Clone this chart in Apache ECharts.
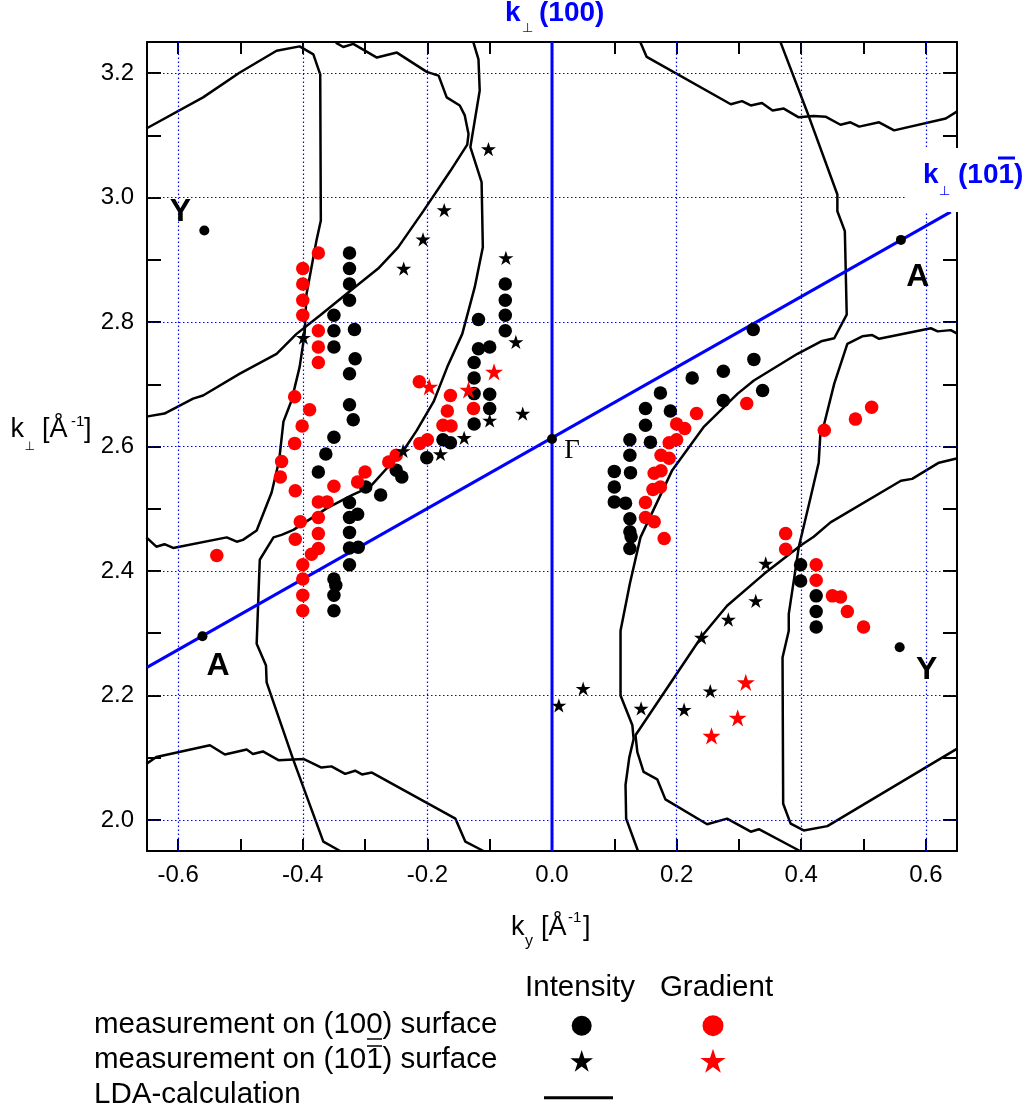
<!DOCTYPE html>
<html><head><meta charset="utf-8">
<script src="https://cdn.jsdelivr.net/npm/echarts@6/dist/echarts.min.js"></script>
<style>html,body{margin:0;padding:0;background:#fff}#c{width:1029px;height:1119px}</style>
</head><body><div id="c"></div><script>
// ---------- axis ticks / labels ----------
const xTickValues = [-0.6,-0.5,-0.4,-0.3,-0.2,-0.1,0.0,0.1,0.2,0.3,0.4,0.5,0.6];
const xLabelValues = [-0.6,-0.4,-0.2,0.0,0.2,0.4,0.6];
const yTickValues = [2.0,2.1,2.2,2.3,2.4,2.5,2.6,2.7,2.8,2.9,3.0,3.1,3.2];
const yLabelValues = [2.0,2.2,2.4,2.6,2.8,3.0,3.2];

// ---------- measurements (100) surface, Intensity (black circles) ----------
const intensity100 = [
 [-0.325,2.911],[-0.325,2.886],[-0.325,2.861],[-0.325,2.835],
 [-0.350,2.811],[-0.350,2.786],[-0.350,2.760],
 [-0.317,2.788],[-0.316,2.741],[-0.325,2.717],[-0.325,2.667],[-0.319,2.643],
 [-0.350,2.615],[-0.363,2.588],[-0.375,2.559],
 [-0.299,2.535],[-0.275,2.522],[-0.250,2.562],[-0.241,2.551],
 [-0.201,2.582],[-0.175,2.611],[-0.163,2.606],
 [-0.325,2.510],[-0.325,2.486],[-0.312,2.491],[-0.325,2.462],[-0.325,2.437],[-0.311,2.438],[-0.325,2.410],
 [-0.350,2.387],[-0.347,2.377],[-0.350,2.361],[-0.350,2.336],
 [-0.118,2.804],[-0.118,2.757],[-0.100,2.760],[-0.125,2.735],[-0.125,2.710],[-0.125,2.685],
 [-0.100,2.684],[-0.100,2.661],[-0.125,2.636],
 [-0.075,2.861],[-0.075,2.835],[-0.075,2.811],[-0.075,2.786],
 [0.323,2.788],[0.324,2.740],[0.275,2.721],[0.225,2.710],[0.338,2.690],[0.275,2.674],
 [0.174,2.686],[0.190,2.657],[0.150,2.661],[0.150,2.634],[0.158,2.607],[0.125,2.611],
 [0.125,2.586],[0.126,2.558],[0.100,2.560],[0.100,2.535],[0.100,2.511],[0.118,2.509],
 [0.125,2.484],[0.125,2.463],[0.127,2.455],[0.125,2.436],
 [0.399,2.410],[0.399,2.384],[0.424,2.360],[0.424,2.335],[0.424,2.310]
];
// ---------- (100) surface, Gradient (red circles) ----------
const gradient100 = [
 [-0.375,2.911],[-0.400,2.886],[-0.400,2.861],[-0.400,2.835],[-0.400,2.811],
 [-0.375,2.786],[-0.375,2.760],[-0.375,2.735],
 [-0.413,2.680],[-0.389,2.659],[-0.401,2.633],[-0.413,2.605],
 [-0.434,2.576],[-0.436,2.551],[-0.412,2.529],[-0.350,2.536],
 [-0.375,2.511],[-0.361,2.511],[-0.375,2.486],[-0.404,2.479],[-0.375,2.460],[-0.412,2.451],
 [-0.375,2.436],[-0.386,2.427],[-0.400,2.410],[-0.400,2.387],[-0.400,2.361],[-0.400,2.336],
 [-0.300,2.559],[-0.312,2.543],[-0.262,2.575],[-0.250,2.586],
 [-0.212,2.605],[-0.200,2.611],[-0.213,2.704],
 [-0.163,2.682],[-0.168,2.657],[-0.175,2.634],[-0.162,2.633],[-0.126,2.661],
 [-0.538,2.425],
 [0.3125,2.669],[0.232,2.653],[0.200,2.636],[0.213,2.629],[0.188,2.606],[0.200,2.611],
 [0.175,2.586],[0.188,2.581],[0.164,2.557],[0.175,2.561],[0.162,2.531],[0.174,2.535],
 [0.150,2.510],[0.150,2.486],[0.164,2.479],[0.180,2.452],
 [0.437,2.626],[0.487,2.644],[0.513,2.663],
 [0.375,2.460],[0.375,2.435],[0.424,2.410],[0.424,2.385],[0.450,2.360],[0.463,2.358],
 [0.474,2.335],[0.500,2.310]
];
// ---------- (10-1) surface, Intensity (black stars) ----------
const intensity101 = [
 [-0.102,3.078],[-0.173,2.980],[-0.207,2.933],[-0.238,2.886],[-0.074,2.903],[-0.399,2.775],
 [-0.058,2.768],[-0.047,2.653],[-0.100,2.642],[-0.141,2.614],[-0.179,2.588],[-0.239,2.593],
 [0.343,2.412],[0.327,2.352],[0.283,2.322],[0.240,2.293],[0.254,2.207],[0.212,2.177],
 [0.143,2.179],[0.050,2.211],[0.011,2.184]
];
// ---------- (10-1) surface, Gradient (red stars) ----------
const gradient101 = [
 [-0.197,2.696],[-0.134,2.691],[-0.093,2.720],[0.311,2.221],[0.298,2.164],[0.256,2.135]
];
// ---------- high symmetry points ----------
const symPointX = [-0.558,-0.561,0.0,0.560,0.558];
const symPointY = [2.947,2.295,2.612,2.932,2.2775];
const symPointNames = ['Y','A','Γ','A','Y'];

// ---------- k-perp directions ----------
const kPerp100 = [[0.0,1.95],[0.0,3.25]];
const kPerp101 = [[-0.65,2.245],[0.64,2.977]];

// ---------- LDA calculation contours ----------
const lda1 = [[-0.651,3.111],[-0.560,3.161],[-0.501,3.201],[-0.442,3.236],[-0.405,3.243],[-0.383,3.230],
 [-0.372,3.198],[-0.371,2.963],[-0.378,2.931],[-0.394,2.845],[-0.397,2.781],[-0.405,2.728],
 [-0.418,2.674],[-0.431,2.640],[-0.438,2.577],[-0.450,2.526],[-0.474,2.465],[-0.496,2.450],
 [-0.506,2.447],[-0.522,2.454],[-0.608,2.437],[-0.622,2.443],[-0.635,2.439],[-0.651,2.454]];
const lda2 = [[-0.347,3.249],[-0.335,3.242],[-0.319,3.247],[-0.281,3.225],[-0.249,3.233],[-0.201,3.202],
 [-0.182,3.196],[-0.169,3.161],[-0.148,3.148],[-0.140,3.132],[-0.134,3.102],[-0.136,3.085],
 [-0.163,3.043],[-0.206,2.979],[-0.247,2.920],[-0.279,2.886],[-0.330,2.845],[-0.372,2.811],
 [-0.410,2.781],[-0.442,2.749],[-0.501,2.717],[-0.560,2.682],[-0.576,2.677],[-0.622,2.653],[-0.651,2.648]];
const lda3 = [[-0.126,3.249],[-0.118,3.222],[-0.116,3.172],[-0.131,3.081],[-0.113,3.025],[-0.111,2.920],
 [-0.124,2.856],[-0.144,2.781],[-0.168,2.728],[-0.190,2.672],[-0.217,2.626],[-0.238,2.594],
 [-0.265,2.565],[-0.292,2.535],[-0.321,2.522],[-0.361,2.501],[-0.415,2.466],[-0.434,2.458],
 [-0.447,2.454],[-0.469,2.418],[-0.474,2.283],[-0.459,2.248],[-0.458,2.221],[-0.415,2.096],
 [-0.367,1.965],[-0.340,1.950]];
const lda4 = [[-0.651,2.090],[-0.635,2.101],[-0.549,2.120],[-0.525,2.105],[-0.490,2.113],[-0.480,2.106],
 [-0.464,2.110],[-0.439,2.096],[-0.399,2.098],[-0.370,2.084],[-0.354,2.086],[-0.332,2.074],
 [-0.316,2.079],[-0.305,2.073],[-0.289,2.076],[-0.155,2.002],[-0.139,1.965],[-0.110,1.950]];
const lda5 = [[0.142,3.249],[0.152,3.226],[0.287,3.150],[0.305,3.155],[0.319,3.148],[0.337,3.152],
 [0.354,3.140],[0.372,3.143],[0.396,3.129],[0.420,3.131],[0.439,3.130],[0.463,3.117],[0.479,3.121],
 [0.493,3.114],[0.525,3.121],[0.549,3.108],[0.632,3.127],[0.651,3.139]];
const lda6 = [[0.367,3.249],[0.412,3.131],[0.458,3.005],[0.458,2.978],[0.470,2.946],[0.473,2.812],
 [0.453,2.774],[0.432,2.769],[0.394,2.749],[0.324,2.706],[0.298,2.685],[0.244,2.632],[0.193,2.562],
 [0.142,2.454],[0.125,2.380],[0.110,2.304],[0.110,2.200],[0.129,2.152],[0.131,2.130],[0.124,2.100],
 [0.118,2.056],[0.119,2.002],[0.138,1.950]];
const lda7 = [[0.651,2.581],[0.621,2.574],[0.578,2.548],[0.560,2.545],[0.447,2.478],[0.420,2.455],
 [0.399,2.441],[0.340,2.395],[0.281,2.344],[0.241,2.296],[0.134,2.136],[0.137,2.109],[0.147,2.077],
 [0.169,2.065],[0.182,2.033],[0.249,1.993],[0.281,2.002],[0.319,1.981],[0.332,1.985],[0.398,1.950]];
const lda8 = [[0.651,2.781],[0.640,2.787],[0.619,2.785],[0.608,2.790],[0.525,2.773],[0.514,2.779],
 [0.498,2.777],[0.474,2.765],[0.453,2.701],[0.437,2.637],[0.431,2.625],[0.428,2.574],[0.415,2.518],
 [0.396,2.438],[0.388,2.384],[0.380,2.331],[0.380,2.304],[0.370,2.261],[0.371,2.026],[0.383,1.994],
 [0.404,1.983],[0.442,1.990],[0.651,2.115]];
const ldaCurves = [lda1,lda2,lda3,lda4,lda5,lda6,lda7,lda8];

// ---------- styles ----------
const FONT = '"Liberation Sans", Arial, Helvetica, sans-serif';
const SERIF = '"Liberation Serif", "Times New Roman", "DejaVu Serif", serif';
const BLUE = '#0000ff';
const RED = '#ff0000';
const STAR = 'path://M50,0L61.23,34.55L97.55,34.55L68.17,55.9L79.39,90.45L50,69.1L20.61,90.45L31.83,55.9L2.45,34.55L38.77,34.55Z';
const symLabelOffsets = [[-24,-18.5],[15.6,30],[20,11.5],[17,37],[27,23]];

function xAxisCfg(pos, showLabel) {
  return {
    type:'value', position:pos, min:-0.65, max:0.65,
    axisLine:{show:true, onZero:false, lineStyle:{color:'#000', width:2}},
    axisTick:{show:true, inside:true, length:12, lineStyle:{color:'#000', width:2}, customValues:xTickValues},
    axisLabel:{show:showLabel, customValues:xLabelValues, formatter:v=>Number(v).toFixed(1),
      fontSize:24, fontFamily:FONT, color:'#000', margin:12},
    splitLine:{show:false}
  };
}
function yAxisCfg(pos, showLabel) {
  return {
    type:'value', position:pos, min:1.95, max:3.25,
    axisLine:{show:true, onZero:false, lineStyle:{color:'#000', width:2}},
    axisTick:{show:true, inside:true, length:14, lineStyle:{color:'#000', width:2}, customValues:yTickValues},
    axisLabel:{show:showLabel, customValues:yLabelValues, formatter:v=>Number(v).toFixed(1),
      fontSize:24, fontFamily:FONT, color:'#000', margin:13},
    splitLine:{show:false}
  };
}

const series = [];
// dotted grid lines via markLine (through the axis scales)
series.push({
  type:'line', data:[[-0.65,1.95]], showSymbol:false, lineStyle:{opacity:0}, z:1, silent:true,
  markLine:{
    silent:true, symbol:['none','none'], label:{show:false},
    lineStyle:{color:BLUE, type:[1.5,2.5], width:1.2, opacity:1},
    data: xLabelValues.map(v=>({xAxis:v})).concat(yLabelValues.map(v=>({yAxis:v}))),
    animation:false
  }
});
ldaCurves.forEach(c => series.push({
  type:'line', data:c, showSymbol:false, symbol:'none', clip:true, z:3, silent:true,
  lineStyle:{color:'#000', width:2.5, opacity:1}
}));
series.push({type:'line', data:kPerp100, showSymbol:false, symbol:'none', z:4, silent:true, lineStyle:{color:BLUE, width:3, opacity:1}});
series.push({type:'line', data:kPerp101, showSymbol:false, symbol:'none', z:4, silent:true, lineStyle:{color:BLUE, width:3, opacity:1}});
series.push({type:'scatter', data:intensity100, symbol:'circle', symbolSize:13.5, itemStyle:{color:'#000', opacity:1}, z:5});
series.push({type:'scatter', data:gradient100, symbol:'circle', symbolSize:13.5, itemStyle:{color:RED, opacity:1}, z:6});
series.push({type:'scatter', data:intensity101, symbol:STAR, symbolKeepAspect:true, symbolSize:15, itemStyle:{color:'#000', opacity:1}, z:7});
series.push({type:'scatter', data:gradient101, symbol:STAR, symbolKeepAspect:true, symbolSize:18, itemStyle:{color:RED, opacity:1}, z:7});
series.push({
  type:'scatter', z:8, symbol:'circle', symbolSize:10, itemStyle:{color:'#000', opacity:1},
  data: symPointX.map((x,i)=>({
    value:[x, symPointY[i]],
    label:{show:true, position:'inside', formatter:symPointNames[i], offset:symLabelOffsets[i],
      color:'#000', opacity:1,
      fontFamily: symPointNames[i]==='Γ' ? SERIF : FONT,
      fontWeight: symPointNames[i]==='Γ' ? 'normal' : 'bold',
      fontSize: symPointNames[i]==='Γ' ? 27 : 32}
  }))
});

function T(x, y, text, size, extra) {
  return Object.assign({type:'text', x:x, y:y, z:100,
    style:Object.assign({text:text, fontSize:size, fontFamily:FONT, fill:'#000', align:'left', verticalAlign:'middle'}, extra||{})});
}
function starPts(cx, cy, R) {
  const p=[]; for (let i=0;i<10;i++){ const r=i%2===0?R:R*0.382; const a=-Math.PI/2+i*Math.PI/5; p.push([cx+r*Math.cos(a), cy+r*Math.sin(a)]); } return p;
}
const B = {fontWeight:'bold', fill:BLUE};
const graphic = [
  // white box behind right label
  {type:'rect', z:90, shape:{x:905, y:148, width:124, height:64}, style:{fill:'#fff'}},
  // top label k_perp (100)
  T(505, 13, 'k', 28, B), T(522, 29, '⊥', 13, {fill:BLUE, fontFamily:'"DejaVu Sans", sans-serif'}), T(539, 13, '(100)', 28, B),
  // right label k_perp (10-1)
  T(923, 175, 'k', 28, B), T(939, 192, '⊥', 13, {fill:BLUE, fontFamily:'"DejaVu Sans", sans-serif'}), T(958, 175, '(101)', 28, B),
  {type:'line', z:100, shape:{x1:998, y1:158, x2:1015, y2:158}, style:{stroke:BLUE, lineWidth:3}},
  // x axis title
  T(511, 928, 'k', 27), T(525, 941.5, 'y', 16), T(541, 928, '[Å', 27), T(568, 918, '-1', 15), T(583, 928, ']', 27),
  // y axis title
  T(10.5, 430, 'k', 27), T(24.5, 447, '⊥', 12, {fontFamily:'"DejaVu Sans", sans-serif'}), T(42, 430, '[Å', 27), T(71, 422, '-1', 15), T(84, 430, ']', 27),
  // legend
  T(580, 988, 'Intensity', 29.5, {align:'center'}),
  T(716.5, 988, 'Gradient', 29.5, {align:'center'}),
  T(94, 1025, 'measurement on (100) surface', 29.5),
  T(94, 1060, 'measurement on (101) surface', 29.5),
  T(94, 1095, 'LDA-calculation', 29.5),
  {type:'line', z:100, shape:{x1:367, y1:1039, x2:382, y2:1039}, style:{stroke:'#000', lineWidth:1.5}},
  {type:'line', z:100, shape:{x1:367, y1:1046, x2:382, y2:1046}, style:{stroke:'#000', lineWidth:1.5}},
  {type:'circle', z:100, shape:{cx:581.7, cy:1025.7, r:10}, style:{fill:'#000'}},
  {type:'circle', z:100, shape:{cx:713, cy:1025.7, r:10.5}, style:{fill:RED}},
  {type:'polygon', z:100, shape:{points:starPts(581.7, 1062, 11.9)}, style:{fill:'#000'}},
  {type:'polygon', z:100, shape:{points:starPts(713, 1062, 13.3)}, style:{fill:RED}},
  {type:'line', z:100, shape:{x1:544, y1:1097.7, x2:613, y2:1097.7}, style:{stroke:'#000', lineWidth:3}}
];

const chart = echarts.init(document.getElementById('c'), null, {renderer:'canvas', width:1029, height:1119});
chart.setOption({
  animation:false,
  backgroundColor:'#fff',
  textStyle:{fontFamily:FONT},
  grid:{left:147, right:72, top:42, bottom:268, containLabel:false},
  xAxis:[xAxisCfg('bottom', true), xAxisCfg('top', false)],
  yAxis:[yAxisCfg('left', true), yAxisCfg('right', false)],
  series: series,
  graphic: graphic
});
</script></body></html>
